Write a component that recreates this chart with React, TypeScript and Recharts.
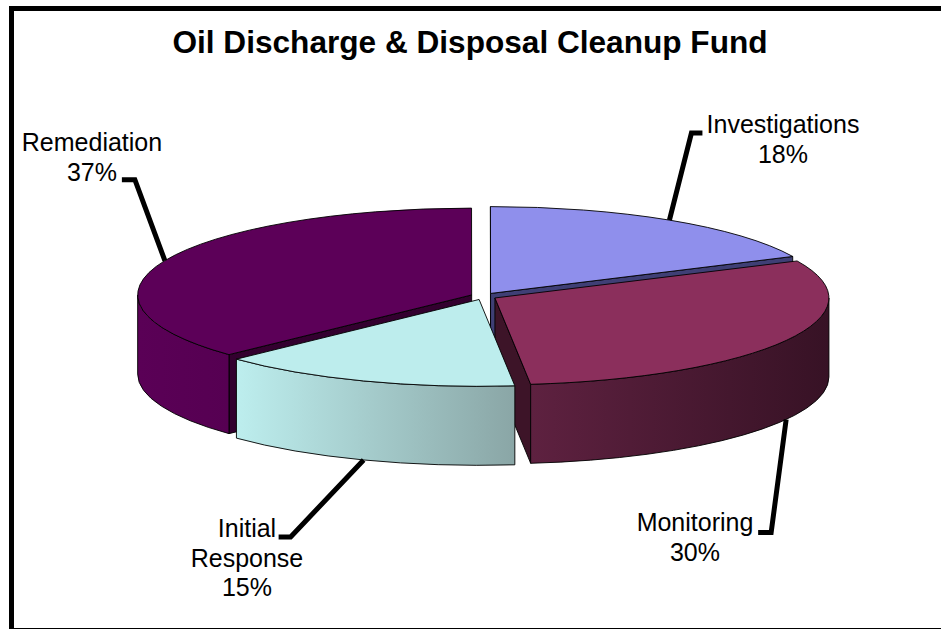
import React from "react";
import { PieChart, Pie } from "recharts";

const categories = ["Remediation", "Investigations", "Monitoring", "Initial Response"];
const values = [37.05, 18, 30.3, 14.65];

const topColors = ["#5c0058", "#8f8fec", "#8b2f5c", "#bdeded"];
const wallFrom = ["#5a0056", "#55558f", "#5e2140", "#bdeeee"];
const wallTo = ["#560052", "#3f3f75", "#371225", "#8aa6a6"];
const cutColors = ["#33002f", "#3f3f75", "#3d1428", "#8aa6a6"];

const labelLines = [["Remediation"], ["Investigations"], ["Monitoring"], ["Initial", "Response"]];

const W = 941;
const H = 629;
const CX = 483.6;
const CY = 296.3;
const RX = 334;
const SQUASH = 0.26;
const DEPTH = 79;
const EXPLODE = 13;
const START = -136.6;

// label placement relative to the rim point at each slice's mid-angle
const leaderElbow: [number, number][] = [[-30, -81], [22, -87], [-15, 113], [-73, 77]];
const leaderEnd: [number, number][] = [[-43, -81], [33, -87], [-28, 113], [-85, 77]];
const textPos: [number, number][] = [[92, 151], [783, 133], [695, 531], [247, 537]];
const lineGap = 29.5;

const rows = categories.map((name, i) => ({ name, value: values[i] }));

const rad = (a: number) => (a * Math.PI) / 180;
const RY = RX * SQUASH;

function sliceOrigin(cx: number, cy: number, mid: number) {
  return {
    x: cx + EXPLODE * Math.cos(rad(mid)),
    y: cy - EXPLODE * SQUASH * Math.sin(rad(mid)),
  };
}
function rim(o: { x: number; y: number }, a: number) {
  return { x: o.x + RX * Math.cos(rad(a)), y: o.y - RY * Math.sin(rad(a)) };
}

function Slice3D(props: any) {
  const { cx, cy, startAngle, endAngle, name } = props;
  const i = categories.indexOf(name);
  let a1 = startAngle;
  let a2 = endAngle;
  while (a1 < -180) {
    a1 += 360;
    a2 += 360;
  }
  const mid = (a1 + a2) / 2;
  const o = sliceOrigin(cx, cy, mid);
  const p1 = rim(o, a1);
  const p2 = rim(o, a2);
  const large = a1 - a2 > 180 ? 1 : 0;
  const top = `M${o.x},${o.y} L${p1.x},${p1.y} A${RX},${RY} 0 ${large} 1 ${p2.x},${p2.y} Z`;

  const cut = (p: { x: number; y: number }) =>
    `M${o.x},${o.y} L${p.x},${p.y} L${p.x},${p.y + DEPTH} L${o.x},${o.y + DEPTH} Z`;
  const showStart = Math.cos(rad(a1)) < -1e-6;
  const showEnd = Math.cos(rad(a2)) > 1e-6;

  const f1 = Math.min(a1, 0);
  const f2 = Math.max(a2, -180);
  let wall: string | null = null;
  if (f1 > f2) {
    const q1 = rim(o, f1);
    const q2 = rim(o, f2);
    wall =
      `M${q1.x},${q1.y} A${RX},${RY} 0 0 1 ${q2.x},${q2.y} ` +
      `L${q2.x},${q2.y + DEPTH} A${RX},${RY} 0 0 0 ${q1.x},${q1.y + DEPTH} Z`;
  }
  const gid = `wall-grad-${i}`;
  const line = { stroke: "#000", strokeWidth: 0.9, strokeLinejoin: "round" as const };
  return (
    <g>
      <defs>
        <linearGradient id={gid} x1="0" y1="0" x2="1" y2="0">
          <stop offset="0" stopColor={wallFrom[i]} />
          <stop offset="1" stopColor={wallTo[i]} />
        </linearGradient>
      </defs>
      {showStart && <path d={cut(p1)} fill={cutColors[i]} {...line} />}
      {showEnd && <path d={cut(p2)} fill={cutColors[i]} {...line} />}
      {wall && <path d={wall} fill={`url(#${gid})`} {...line} />}
      <path d={top} fill={topColors[i]} {...line} />
    </g>
  );
}

function SliceLabel(props: any) {
  const { cx, cy, midAngle, name, value } = props;
  const i = categories.indexOf(name);
  let mid = midAngle;
  while (mid < -180) mid += 360;
  const o = sliceOrigin(cx, cy, mid);
  const r = rim(o, mid);
  const startY = Math.sin(rad(mid)) < 0 ? r.y + DEPTH : r.y;
  const pts = [
    [r.x, startY],
    [r.x + leaderElbow[i][0], startY + leaderElbow[i][1]],
    [r.x + leaderEnd[i][0], startY + leaderEnd[i][1]],
  ];
  const lines = [...labelLines[i], `${Math.round(value)}%`];
  return (
    <g>
      <polyline
        points={pts.map((p) => p.join(",")).join(" ")}
        fill="none"
        stroke="#000"
        strokeWidth={5}
        strokeLinejoin="miter"
      />
      {lines.map((t, k) => (
        <text
          key={k}
          x={textPos[i][0]}
          y={textPos[i][1] + k * lineGap}
          textAnchor="middle"
          fontFamily="Liberation Sans"
          fontSize={25}
          fill="#000"
        >
          {t}
        </text>
      ))}
    </g>
  );
}

export default function App() {
  return (
    <div style={{ position: "fixed", left: 0, top: 0, width: W, height: H, overflow: "hidden", background: "#fff" }}>
      <div
        style={{
          position: "absolute",
          left: 9,
          top: 6,
          width: 1100,
          height: 627,
          boxSizing: "border-box",
          border: "5px solid #000",
        }}
      />
      <div style={{ position: "absolute", left: 0, top: 0 }}>
        <PieChart width={W} height={H} margin={{ top: 0, right: 0, bottom: 0, left: 0 }}>
          <text
            x={470}
            y={53}
            textAnchor="middle"
            fontFamily="Liberation Sans"
            fontWeight="bold"
            fontSize={31.6}
            fill="#000"
          >
            Oil Discharge &amp; Disposal Cleanup Fund
          </text>
          <Pie
            data={rows}
            dataKey="value"
            nameKey="name"
            cx={CX}
            cy={CY}
            innerRadius={0}
            outerRadius={RX}
            startAngle={START}
            endAngle={START - 360}
            paddingAngle={0}
            isAnimationActive={false}
            shape={Slice3D}
            activeShape={Slice3D}
            inactiveShape={Slice3D}
            label={SliceLabel}
            labelLine={false}
          />
        </PieChart>
      </div>
    </div>
  );
}
